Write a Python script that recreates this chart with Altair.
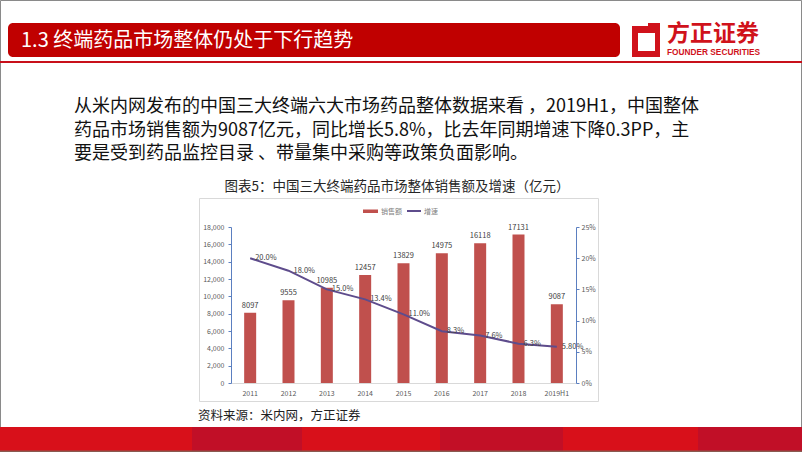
import altair as alt
import pandas as pd

# ---------------- data ----------------
years = ["2011", "2012", "2013", "2014", "2015", "2016", "2017", "2018", "2019H1"]
sales = [8097, 9555, 10985, 12457, 13829, 14975, 16118, 17131, 9087]
growth = [20.0, 18.0, 15.0, 13.4, 11.0, 8.3, 7.6, 6.3, 5.8]
growth_labels = ["20.0%", "18.0%", "15.0%", "13.4%", "11.0%", "8.3%", "7.6%", "6.3%", "5.80%"]
left_ticks = [0, 2000, 4000, 6000, 8000, 10000, 12000, 14000, 16000, 18000]
right_ticks = [0, 5, 10, 15, 20, 25]

header_title = "1.3 终端药品市场整体仍处于下行趋势"
body_lines = [
    "从米内网发布的中国三大终端六大市场药品整体数据来看  ，2019H1，中国整体",
    "药品市场销售额为9087亿元，同比增长5.8%，比去年同期增速下降0.3PP，主",
    "要是受到药品监控目录 、带量集中采购等政策负面影响。",
]
chart_title = "图表5：中国三大终端药品市场整体销售额及增速（亿元）"
source_text = "资料来源：米内网，方正证券"
legend_names = ["销售额", "增速"]
logo_cn = "方正证券"
logo_en = "FOUNDER SECURITIES"

FONT = "Noto Sans CJK SC"
RED = "#C00000"
BAR = "#C0504D"
LINE = "#5E4C8C"
AXIS_BLUE = "#5B7FC0"

df = pd.DataFrame({"year": years, "sales": sales, "growth": growth, "glabel": growth_labels})
one = pd.DataFrame({"a": [0]})

W, H = 802, 452
X0, X1 = 231, 576
Y0, Y1 = 383, 227


def rect(x, x2, y, y2, color, **kw):
    return alt.Chart(one).mark_rect(color=color, **kw).encode(
        x=alt.value(x), x2=alt.value(x2), y=alt.value(y), y2=alt.value(y2)
    )


def txt(s, x, y, size, color="#000000", align="left", weight="normal", baseline="middle", font=FONT):
    return alt.Chart(one).mark_text(
        text=s, fontSize=size, color=color, align=align, baseline=baseline,
        fontWeight=weight, font=font
    ).encode(x=alt.value(x), y=alt.value(y))


layers = []
# slide border
layers.append(alt.Chart(one).mark_rect(fill="white", stroke="#8A8A8A", strokeWidth=1).encode(
    x=alt.value(0.5), x2=alt.value(W - 0.5), y=alt.value(0.5), y2=alt.value(H - 0.5)))
# header
layers.append(rect(8, 620, 23, 57, RED, cornerRadius=5))
layers.append(txt(header_title, 21, 41, 20, color="white"))
layers.append(rect(0, W, 61, 63, "#C8101A"))
# logo
layers.append(rect(632, 660, 26, 57, "#D0121B"))
layers.append(rect(638, 655, 33, 51, "white"))
layers.append(rect(648, 660, 23, 30, "#D0121B"))
layers.append(txt(logo_cn, 667, 33.5, 23, color="#D0121B", weight="bold"))
layers.append(txt(logo_en, 667, 52.5, 8.3, color="#D0121B", weight="bold", font="Liberation Sans"))
# body text
for i, line in enumerate(body_lines):
    layers.append(txt(line, 74, 107 + i * 23.5, 18, color="#111111"))
# chart title
layers.append(txt(chart_title, 397, 187, 13.5, color="#262626", align="center"))
# chart box
layers.append(alt.Chart(one).mark_rect(fill="white", stroke="#D9D9D9", strokeWidth=1).encode(
    x=alt.value(199.5), x2=alt.value(598.5), y=alt.value(198.5), y2=alt.value(401.5)))
# legend
layers.append(rect(363, 378, 209.5, 213, BAR))
layers.append(txt(legend_names[0], 381, 211.5, 7, color="#7F7F7F"))
layers.append(alt.Chart(one).mark_rule(color=LINE, strokeWidth=2).encode(
    x=alt.value(407), x2=alt.value(421), y=alt.value(211)))
layers.append(txt(legend_names[1], 424, 211.5, 7, color="#7F7F7F"))
# source
layers.append(txt(source_text, 198, 416, 12.5, color="#222222"))
# bottom band
stripes = [(0, 192, "#D8101A"), (192, 302, "#C10F27"), (302, 440, "#D8101A"),
           (440, 563, "#C20F26"), (563, 698, "#D8101A"), (698, W, "#C10F27")]
for a, b, c in stripes:
    layers.append(rect(a, b, 427, H, c))
layers.append(rect(0, W, H - 1.5, H, "#8A5A50"))

xenc = alt.X(
    "year:N", sort=years, title=None,
    scale=alt.Scale(range=[X0, X1], paddingInner=0.687, paddingOuter=0.3435),
    axis=alt.Axis(orient="bottom", offset=-(H - Y0), domainColor="#D9D9D9", ticks=False,
                  labelAngle=0, labelFontSize=7, labelColor="#595959", labelFont=FONT,
                  labelPadding=6, grid=False, zindex=1),
)

bars = alt.Chart(df).mark_bar(color=BAR).encode(
    x=xenc,
    y=alt.Y("sales:Q", title=None,
            scale=alt.Scale(domain=[0, 18000], range=[Y0, Y1], nice=False),
            axis=alt.Axis(orient="left", offset=-X0, values=left_ticks, format=",.0f",
                          domainColor=AXIS_BLUE, tickColor=AXIS_BLUE, tickSize=3,
                          labelFontSize=7, labelColor="#595959", labelFont=FONT,
                          labelPadding=4, grid=False, zindex=1)),
)
bar_labels = alt.Chart(df).mark_text(
    fontSize=7.5, color="#404040", baseline="bottom", dy=-3, font=FONT
).encode(x=alt.X("year:N", sort=years), y=alt.Y("sales:Q"), text="sales:Q")

bar_layer = alt.layer(bars, bar_labels)

yline = alt.Y("growth:Q", title=None,
              scale=alt.Scale(domain=[0, 25], range=[Y0, Y1], nice=False),
              axis=alt.Axis(orient="right", offset=-(W - X1), values=right_ticks,
                            labelExpr="datum.value + '%'",
                            domainColor=AXIS_BLUE, tickColor=AXIS_BLUE, tickSize=3,
                            labelFontSize=7, labelColor="#595959", labelFont=FONT,
                            labelPadding=2, grid=False, zindex=1))
line = alt.Chart(df).mark_line(color=LINE, strokeWidth=2).encode(
    x=alt.X("year:N", sort=years), y=yline)
line_labels = alt.Chart(df).mark_text(
    fontSize=7.5, color="#404040", align="left", dx=5, baseline="middle", font=FONT
).encode(x=alt.X("year:N", sort=years), y=alt.Y("growth:Q"), text="glabel:N")

line_layer = alt.layer(line, line_labels)

data_layer = alt.layer(bar_layer, line_layer).resolve_scale(y="independent")

chart = alt.layer(*layers, data_layer).resolve_scale(y="independent").properties(
    width=W, height=H, padding=0, autosize="none"
).configure_view(stroke=None).configure(background="white")

chart.save("out.html", embed_options={"renderer": "svg", "actions": False})
